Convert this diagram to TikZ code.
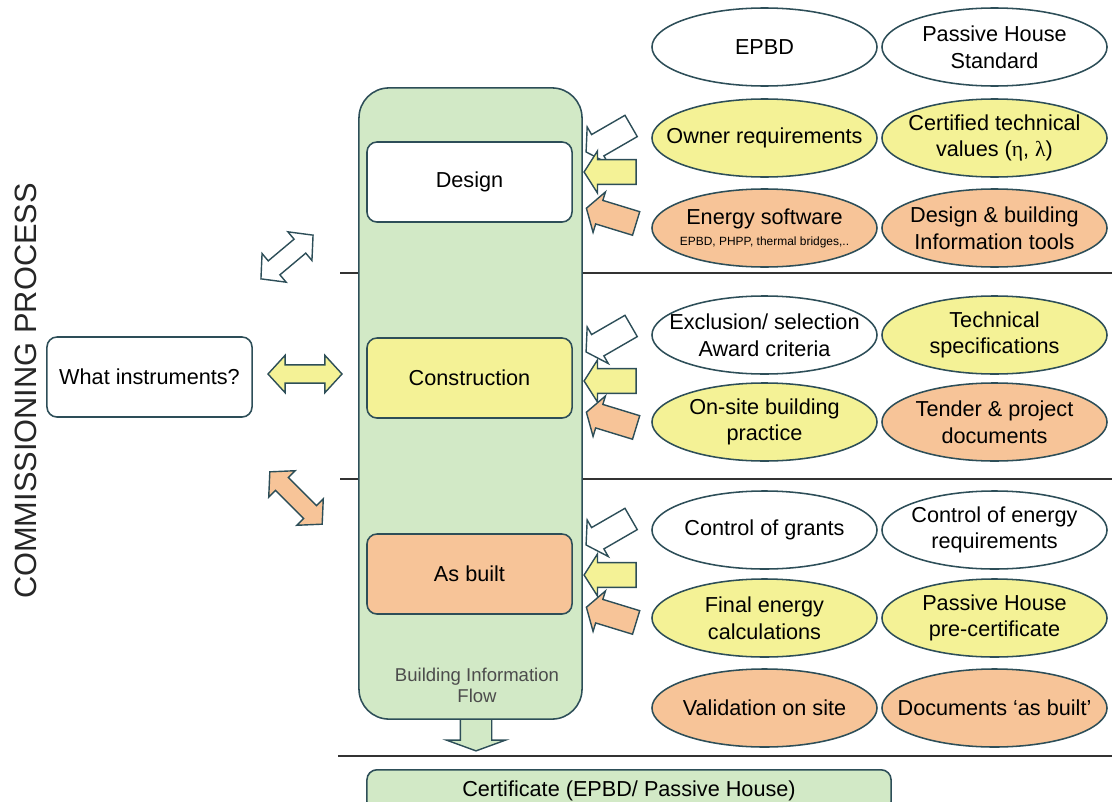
\documentclass[tikz,border=0pt]{standalone}
\usepackage{fontspec}
\setmainfont{Liberation Sans}
\newfontfamily\symbfont{Liberation Serif}
\usepackage{tikz}
\usetikzlibrary{shapes, shapes.geometric, shapes.arrows, positioning}

\definecolor{flowgreen}{RGB}{210,233,198}
\definecolor{reqyellow}{RGB}{244,242,150}
\definecolor{reqorange}{RGB}{247,196,152}
\definecolor{rim}{RGB}{45,78,88}

\begin{document}
\begin{tikzpicture}[x=0.025cm, y=-0.025cm,
        stage/.style={rectangle, rounded corners=0.25cm, draw=rim, line width=1.1pt, minimum width=5.125cm, minimum height=2cm, font=\fontsize{15.4}{19}\selectfont},
        goal/.style={ellipse, draw=rim, line width=1.1pt, minimum width=5.625cm, minimum height=1.95cm, inner xsep=-1.2cm, inner ysep=-0.3cm, align=center, font=\fontsize{15.4}{19}\selectfont},
        feed/.style={single arrow, draw=rim, line width=1pt, minimum height=1.3cm, inner xsep=0pt, inner ysep=0.29cm, single arrow head extend=0.22cm, single arrow tip angle=115},
        link/.style={double arrow, draw=rim, line width=1pt, minimum height=1.85cm, inner xsep=0pt, inner ysep=0.21cm, double arrow head extend=0.24cm, double arrow tip angle=95},
        divider/.style={black!80, line width=1.1pt}
    ]
    \useasboundingbox (0,0) rectangle (1112,802);

    % phase dividers
    \draw[divider] (340,273) -- (1112,273);
    \draw[divider] (340,479) -- (1112,479);
    \draw[divider] (338,756) -- (1112,756);

    % information flow column
    \node[single arrow, draw=rim, fill=flowgreen, line width=1pt, rotate=-90, minimum height=0.8cm, inner xsep=0pt, inner ysep=0.375cm, single arrow head extend=0.35cm, single arrow tip angle=140] (down) at (476,732) {};
    \node[rectangle, rounded corners=0.75cm, draw=rim, fill=flowgreen, line width=1.1pt, minimum width=5.575cm, minimum height=15.775cm] (flow) at (470.5,403.5) {};
    \node[stage, fill=white] (design) at (469.5,182) {Design};
    \node[stage, fill=reqyellow] (constr) at (469.5,378) {Construction};
    \node[stage, fill=reqorange] (built) at (469.5,574) {As built};
    \node[align=center, text=black!70, font=\fontsize{13.2}{14.9}\selectfont] (flowlabel) at (477,685) {Building Information\\Flow};

    % inputs per phase
    \foreach \g/\yw/\yy/\yo in {design/137/172/217, constr/337/381/421, built/530/575/616} {
        \node[feed, fill=white, rotate=210] (\g-white) at (612,\yw) {};
        \node[feed, fill=reqyellow, rotate=180] (\g-yellow) at (614,\yy) {};
        \node[feed, fill=reqorange, rotate=163] (\g-orange) at (615,\yo) {};
    }

    % instruments
    \node[stage, fill=white] (instr) at (149.5,377) {What instruments?};
    \node[link, fill=white, rotate=40, minimum height=1.7cm] (link-design) at (287,257) {};
    \node[link, fill=reqyellow] (link-constr) at (305,374) {};
    \node[link, fill=reqorange, rotate=-45] (link-built) at (296,498) {};

    % design row
    \node[goal, fill=white] (epbd) at (764.5,47) {EPBD};
    \node[goal, fill=white] (phs) at (994.5,47) {Passive House\\Standard};
    \node[goal, fill=reqyellow] (owner) at (764.5,138) {Owner requirements};
    \node[goal, fill=reqyellow] (certified) at (994.5,138) {Certified technical\\values ({\symbfont η}, {\symbfont λ})};
    \node[goal, fill=reqorange] (software) at (764.5,228) {Energy software\\[-4pt]{\fontsize{8.5}{10}\selectfont EPBD, PHPP, thermal bridges,..}};
    \node[goal, fill=reqorange] (tools) at (994.5,228) {Design \& building\\Information tools};

    % construction row
    \node[goal, fill=white] (award) at (764.5,335) {Exclusion/ selection\\Award criteria};
    \node[goal, fill=reqyellow] (specs) at (994.5,335) {Technical\\specifications};
    \node[goal, fill=reqyellow] (practice) at (764.5,422) {On-site building\\practice};
    \node[goal, fill=reqorange] (tender) at (994.5,422) {Tender \& project\\documents};

    % as built row
    \node[goal, fill=white] (grants) at (764.5,530) {Control of grants};
    \node[goal, fill=white] (energyreq) at (994.5,530) {Control of energy\\requirements};
    \node[goal, fill=reqyellow] (calc) at (764.5,618) {Final energy\\calculations};
    \node[goal, fill=reqyellow] (precert) at (994.5,618) {Passive House\\pre-certificate};
    \node[goal, fill=reqorange] (validation) at (764.5,708) {Validation on site};
    \node[goal, fill=reqorange] (asbuiltdocs) at (994.5,708) {Documents `as built'};

    \node[rectangle, rounded corners=0.25cm, draw=rim, fill=flowgreen, line width=1.1pt, minimum width=13.1cm, minimum height=1.05cm, anchor=north, font=\fontsize{15.4}{19}\selectfont] (cert) at (629,769) {Certificate (EPBD/ Passive House)};

    \node[rotate=90, font=\fontsize{21.9}{24}\selectfont, text=black!85] (title) at (26,391) {COMMISSIONING PROCESS};
\end{tikzpicture}
\end{document}
